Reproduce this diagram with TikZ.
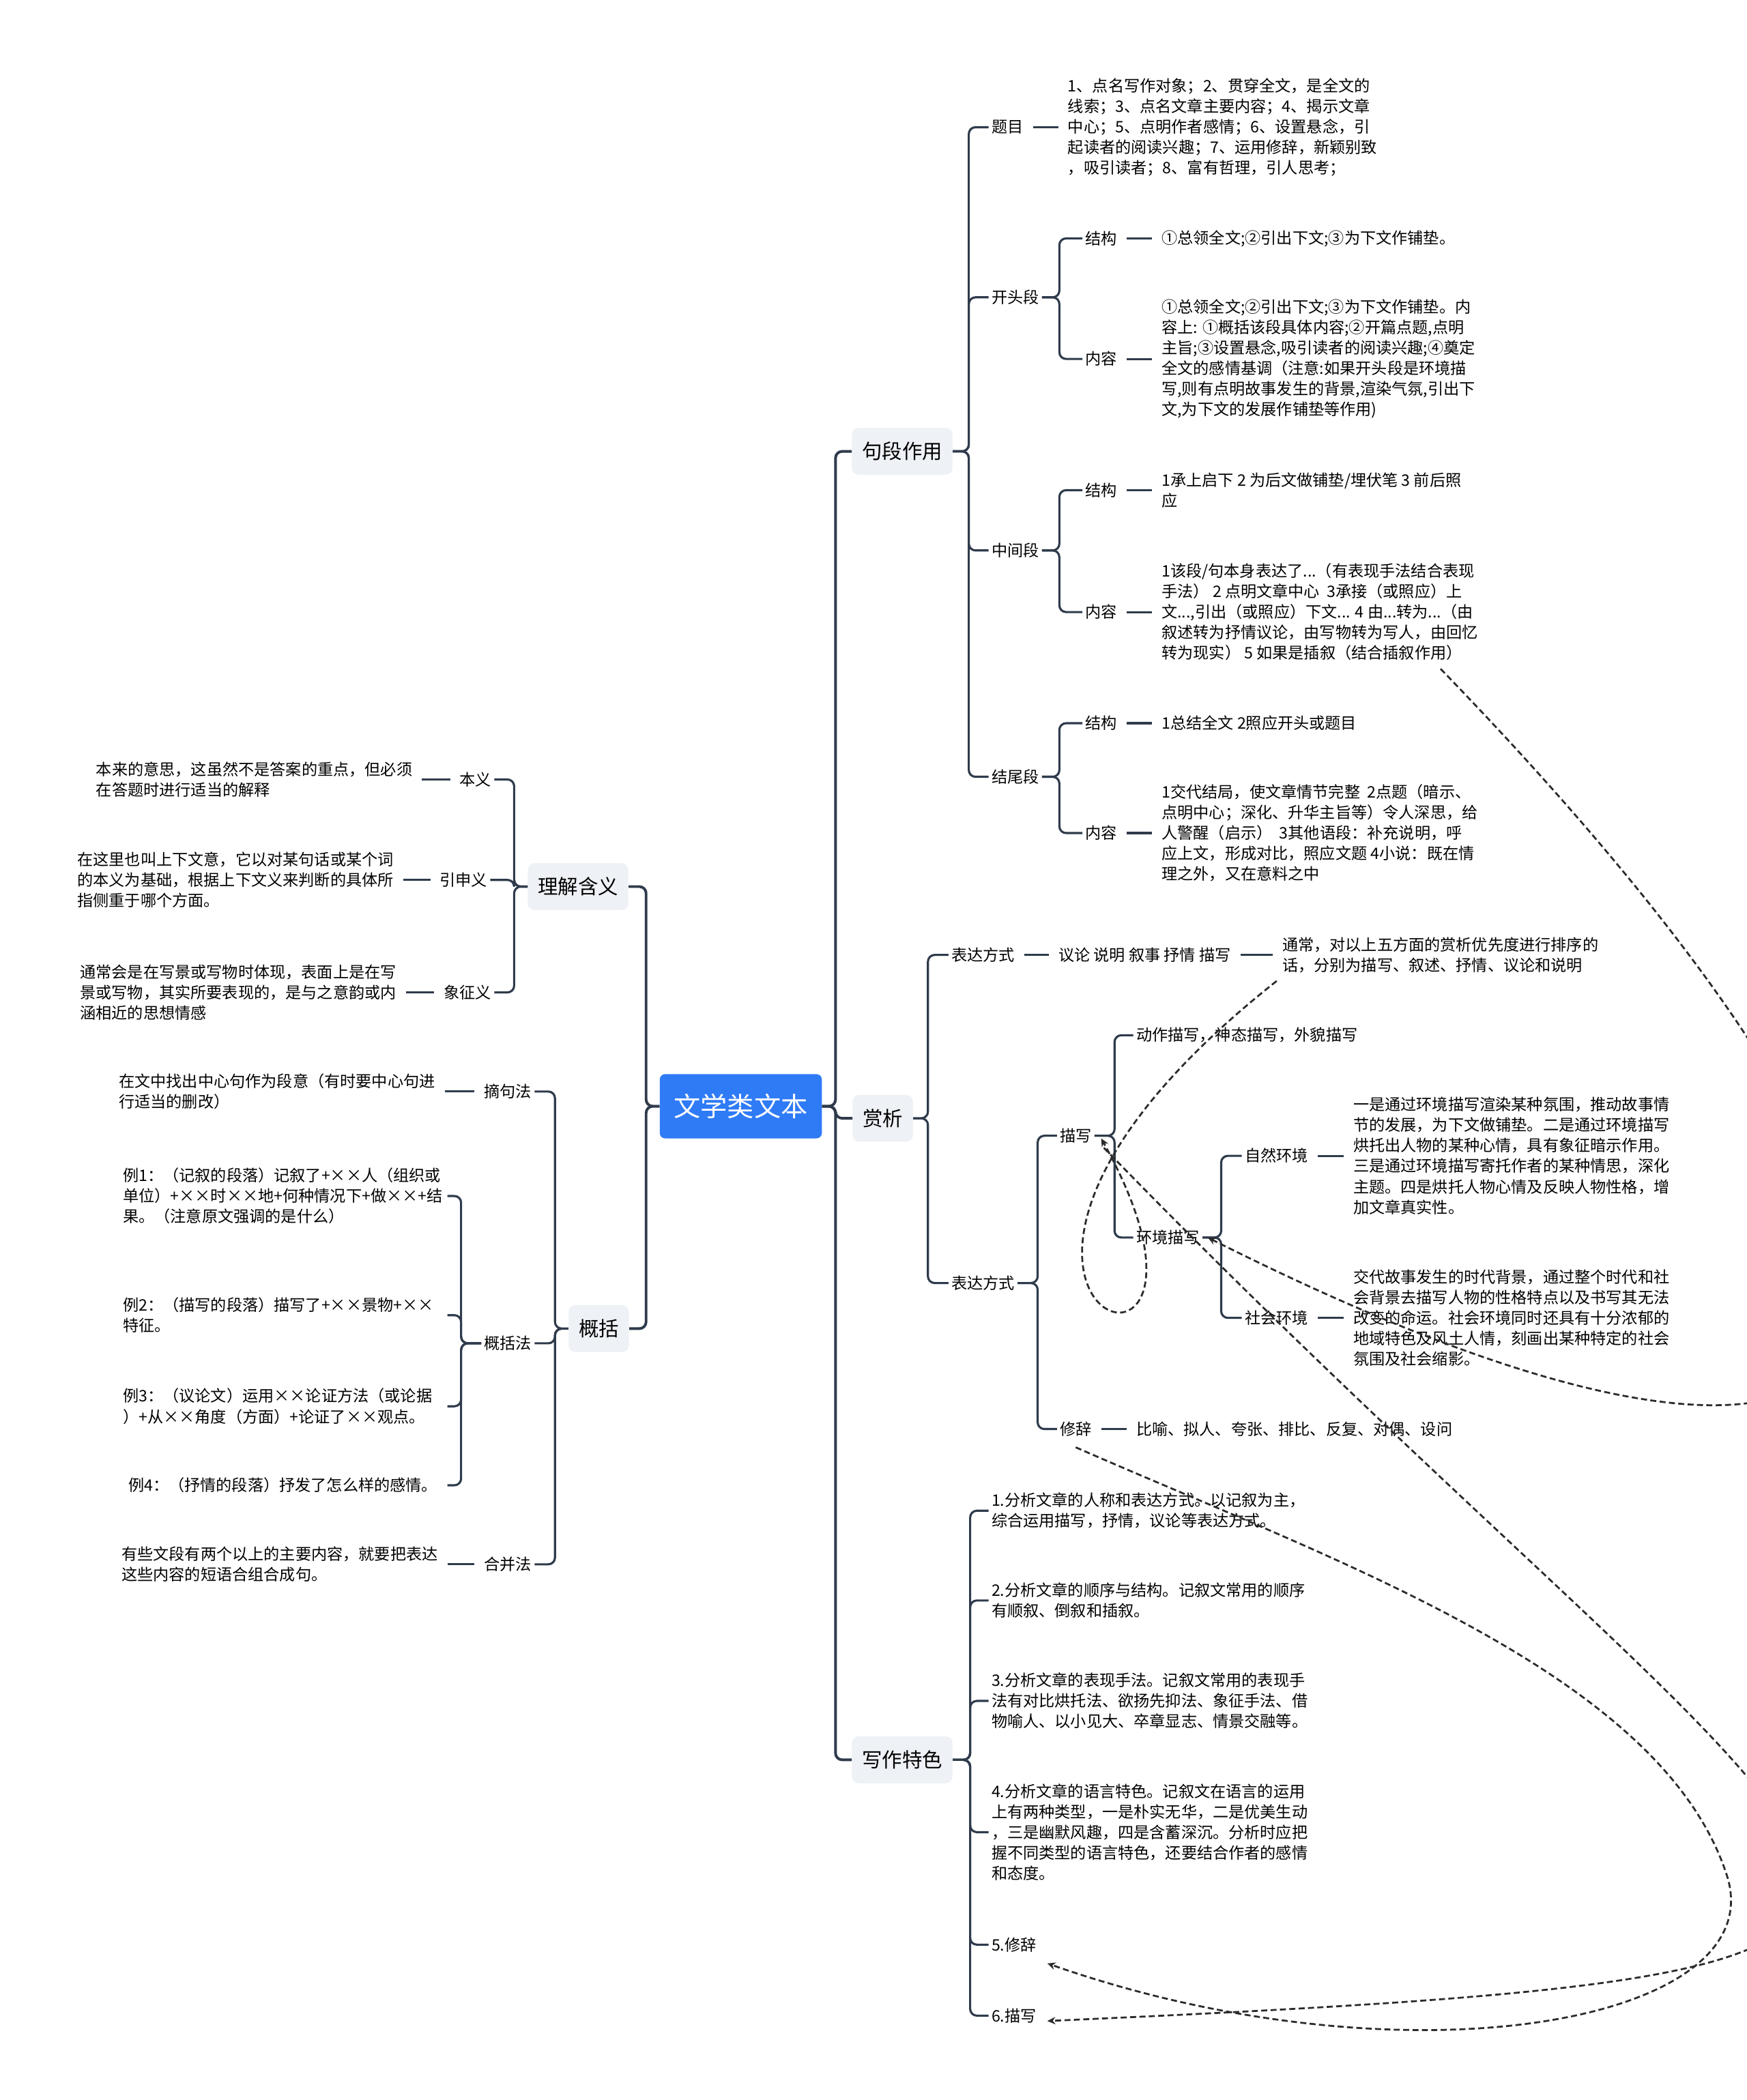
\documentclass[tikz,border=0pt]{standalone}
\usepackage{fontspec}
\setmainfont{Noto Sans CJK SC}
\usetikzlibrary{arrows.meta}
\definecolor{branchcol}{HTML}{2F3B4C}
\definecolor{topicbg}{HTML}{EEF1F5}
\definecolor{rootblue}{HTML}{2F7BF6}
\definecolor{relcol}{HTML}{2B2B2B}
\newcommand\smallfs{\fontsize{11.8pt}{15.3pt}\selectfont}
\tikzset{
  root/.style={fill=rootblue, text=white, rounded corners=4pt, font=\fontsize{20pt}{24pt}\selectfont, inner xsep=10.5pt, minimum height=48pt},
  topic/.style={fill=topicbg, rounded corners=5pt, font=\fontsize{15pt}{18pt}\selectfont, inner xsep=7.5pt, minimum height=35pt},
  lbl/.style={font=\smallfs, inner sep=2pt},
  txt/.style={font=\smallfs, inner sep=2pt, align=left},
  branch/.style={draw=branchcol, line width=1.6pt, rounded corners=5pt},
  tie/.style={draw=branchcol, line width=1.6pt, shorten <=5pt, shorten >=5pt},
  rel/.style={draw=relcol, line width=1.4pt, dash pattern=on 4.5pt off 2.5pt, -{Stealth[length=6pt,width=5.5pt]}}
}
\begin{document}
\begin{tikzpicture}[x=1pt,y=-1pt]
\useasboundingbox (0,0) rectangle (1304,1568);
\fill[white] (0,0) rectangle (1304,1568);
\clip (0,0) rectangle (1304,1568);

% root and main topics
\node[root] (wx) at (553,826) {文学类文本};
\node[topic] (jdzy) at (673.5,337) {句段作用};
\node[topic] (sx) at (659,835) {赏析};
\node[topic] (xztz) at (673.5,1314) {写作特色};
\node[topic] (ljhy) at (431.5,662) {理解含义};
\node[topic] (gk) at (447,992) {概括};
\foreach \t in {jdzy,sx,xztz}
  \draw[branch, line width=2pt] (wx.east) -- ++(10,0) |- (\t.west);
\foreach \t in {ljhy,gk}
  \draw[branch, line width=2pt] (wx.west) -- ++(-10,0) |- (\t.east);

% 句段作用
\node[lbl, anchor=west] (tm) at (738,95) {题目};
\node[lbl, anchor=west] (kt) at (738,222) {开头段};
\node[lbl, anchor=west] (zj) at (738,411) {中间段};
\node[lbl, anchor=west] (jw) at (738,580) {结尾段};
\foreach \t in {tm,kt,zj,jw}
  \draw[branch] (jdzy.east) -- ++(12,0) |- (\t.west);
\node[txt, anchor=west] (tmt) at (795,95) {1、点名写作对象；2、贯穿全文，是全文的\\
线索；3、点名文章主要内容；4、揭示文章\\
中心；5、点明作者感情；6、设置悬念，引\\
起读者的阅读兴趣；7、运用修辞，新颖别致\\
，吸引读者；8、富有哲理，引人思考；};
\draw[tie] (tm.east) -- (tmt.west);

\node[lbl, anchor=west] (ktjg) at (808,178) {结构};
\node[lbl, anchor=west] (ktnr) at (808,268) {内容};
\node[lbl, anchor=west] (zjjg) at (808,366) {结构};
\node[lbl, anchor=west] (zjnr) at (808,457) {内容};
\node[lbl, anchor=west] (jwjg) at (808,540) {结构};
\node[lbl, anchor=west] (jwnr) at (808,622) {内容};
\foreach \p/\a/\b in {kt/ktjg/ktnr,zj/zjjg/zjnr,jw/jwjg/jwnr}{
  \draw[branch] (\p.east) -- ++(13,0) |- (\a.west);
  \draw[branch] (\p.east) -- ++(13,0) |- (\b.west);
}
\node[txt, anchor=west] (ktjgt) at (865,178) {①总领全文;②引出下文;③为下文作铺垫。};
\node[txt, anchor=west] (ktnrt) at (865,268) {①总领全文;②引出下文;③为下文作铺垫。内\\
容上: ①概括该段具体内容;②开篇点题,点明\\
主旨;③设置悬念,吸引读者的阅读兴趣;④奠定\\
全文的感情基调（注意:如果开头段是环境描\\
写,则有点明故事发生的背景,渲染气氛,引出下\\
文,为下文的发展作铺垫等作用)};
\node[txt, anchor=west] (zjjgt) at (865,366) {1承上启下 2 为后文做铺垫/埋伏笔 3 前后照\\
应};
\node[txt, anchor=west] (zjnrt) at (865,457) {1该段/句本身表达了...（有表现手法结合表现\\
手法） 2 点明文章中心\ \ 3承接（或照应）上\\
文...,引出（或照应）下文... 4 由...转为...（由\\
叙述转为抒情议论，由写物转为写人，由回忆\\
转为现实） 5 如果是插叙（结合插叙作用）};
\node[txt, anchor=west] (jwjgt) at (865,540) {1总结全文 2照应开头或题目};
\node[txt, anchor=west] (jwnrt) at (865,622) {1交代结局，使文章情节完整\ \ 2点题（暗示、\\
点明中心；深化、升华主旨等）令人深思，给\\
人警醒（启示）\ \ 3其他语段：补充说明，呼\\
应上文，形成对比，照应文题 4小说：既在情\\
理之外，又在意料之中};
\foreach \a in {ktjg,ktnr,zjjg,zjnr,jwjg,jwnr}
  \draw[tie] (\a.east) -- (\a t.west);

% 赏析
\node[lbl, anchor=west] (bd1) at (708,713) {表达方式};
\node[lbl, anchor=west] (bd2) at (708,958) {表达方式};
\foreach \t in {bd1,bd2}
  \draw[branch] (sx.east) -- ++(11,0) |- (\t.west);
\node[lbl, anchor=west] (yl) at (788,713) {议论 说明 叙事 抒情 描写};
\node[txt, anchor=west] (tc) at (955,713) {通常，对以上五方面的赏析优先度进行排序的\\
话，分别为描写、叙述、抒情、议论和说明};
\draw[tie] (bd1.east) -- (yl.west);
\draw[tie] (yl.east) -- (tc.west);

\node[lbl, anchor=west] (ms) at (789,848) {描写};
\node[lbl, anchor=west] (xc) at (789,1067) {修辞};
\foreach \t in {ms,xc}
  \draw[branch] (bd2.east) -- ++(15,0) |- (\t.west);
\node[lbl, anchor=west] (dz) at (846,773) {动作描写，神态描写，外貌描写};
\node[lbl, anchor=west] (hj) at (846,924) {环境描写};
\foreach \t in {dz,hj}
  \draw[branch] (ms.east) -- ++(15,0) |- (\t.west);
\node[lbl, anchor=west] (zr) at (927,863) {自然环境};
\node[lbl, anchor=west] (sh) at (927,984) {社会环境};
\foreach \t in {zr,sh}
  \draw[branch] (hj.east) -- ++(14,0) |- (\t.west);
\node[txt, anchor=west] (zrt) at (1008,863) {一是通过环境描写渲染某种氛围，推动故事情\\
节的发展，为下文做铺垫。二是通过环境描写\\
烘托出人物的某种心情，具有象征暗示作用。\\
三是通过环境描写寄托作者的某种情思，深化\\
主题。四是烘托人物心情及反映人物性格，增\\
加文章真实性。};
\node[txt, anchor=west] (sht) at (1008,984) {交代故事发生的时代背景，通过整个时代和社\\
会背景去描写人物的性格特点以及书写其无法\\
改变的命运。社会环境同时还具有十分浓郁的\\
地域特色及风土人情，刻画出某种特定的社会\\
氛围及社会缩影。};
\node[lbl, anchor=west] (xct) at (846,1067) {比喻、拟人、夸张、排比、反复、对偶、设问};
\draw[tie] (zr.east) -- (zrt.west);
\draw[tie] (sh.east) -- (sht.west);
\draw[tie] (xc.east) -- (xct.west);

% 写作特色
\node[txt, anchor=west] (w1) at (738,1128) {1.分析文章的人称和表达方式。以记叙为主，\\
综合运用描写，抒情，议论等表达方式。};
\node[txt, anchor=west] (w2) at (738,1195) {2.分析文章的顺序与结构。记叙文常用的顺序\\
有顺叙、倒叙和插叙。};
\node[txt, anchor=west] (w3) at (738,1270) {3.分析文章的表现手法。记叙文常用的表现手\\
法有对比烘托法、欲扬先抑法、象征手法、借\\
物喻人、以小见大、卒章显志、情景交融等。};
\node[txt, anchor=west] (w4) at (738,1368) {4.分析文章的语言特色。记叙文在语言的运用\\
上有两种类型，一是朴实无华，二是优美生动\\
，三是幽默风趣，四是含蓄深沉。分析时应把\\
握不同类型的语言特色，还要结合作者的感情\\
和态度。};
\node[txt, anchor=west] (w5) at (738,1452) {5.修辞};
\node[txt, anchor=west] (w6) at (738,1505) {6.描写};
\foreach \t in {w1,w2,w3,w4,w5,w6}
  \draw[branch] (xztz.east) -- ++(13,0) |- (\t.west);

% 理解含义
\node[lbl, anchor=east] (by) at (369,582) {本义};
\node[lbl, anchor=east] (ysy) at (366,657) {引申义};
\node[lbl, anchor=east] (xzy) at (369,741) {象征义};
\foreach \t in {by,ysy,xzy}
  \draw[branch] (ljhy.west) -- ++(-10,0) |- (\t.east);
\node[txt, anchor=east] (byt) at (310,582) {本来的意思，这虽然不是答案的重点，但必须\\
在答题时进行适当的解释};
\node[txt, anchor=east] (ysyt) at (296,657) {在这里也叫上下文意，它以对某句话或某个词\\
的本义为基础，根据上下文义来判断的具体所\\
指侧重于哪个方面。};
\node[txt, anchor=east] (xzyt) at (298,741) {通常会是在写景或写物时体现，表面上是在写\\
景或写物，其实所要表现的，是与之意韵或内\\
涵相近的思想情感};
\foreach \t in {by,ysy,xzy}
  \draw[tie] (\t.west) -- (\t t.east);

% 概括
\node[lbl, anchor=east] (zjf) at (399,815) {摘句法};
\node[lbl, anchor=east] (gkf) at (399,1003) {概括法};
\node[lbl, anchor=east] (hbf) at (399,1168) {合并法};
\foreach \t in {zjf,gkf,hbf}
  \draw[branch] (gk.west) -- ++(-10,0) |- (\t.east);
\node[txt, anchor=east] (zjft) at (327,815) {在文中找出中心句作为段意（有时要中心句进\\
行适当的删改）};
\node[txt, anchor=east] (hbft) at (329,1168) {有些文段有两个以上的主要内容，就要把表达\\
这些内容的短语合组合成句。};
\draw[tie] (zjf.west) -- (zjft.east);
\draw[tie] (hbf.west) -- (hbft.east);
\node[txt, anchor=east, text width=240pt] (e1) at (334,893) {例1：（记叙的段落）记叙了+××人（组织或\\
单位）+××时××地+何种情况下+做××+结\\
果。（注意原文强调的是什么）};
\node[txt, anchor=east, text width=240pt] (e2) at (334,982) {例2：（描写的段落）描写了+××景物+××\\
特征。};
\node[txt, anchor=east, text width=240pt] (e3) at (334,1050) {例3：（议论文）运用××论证方法（或论据\\
）+从××角度（方面）+论证了××观点。};
\node[txt, anchor=east, text width=240pt] (e4) at (334,1109) {\hspace*{4pt}例4：（抒情的段落）抒发了怎么样的感情。};
\foreach \t in {e1,e2,e3,e4}
  \draw[branch] (gkf.west) -- ++(-15,0) |- (\t.east);

% relation curves
\draw[rel] ([xshift=-30pt,yshift=-4pt]zjnrt.south east) .. controls (1560,1000) and (1450,1200) .. ([xshift=4pt]hj.east);
\draw[rel] ([xshift=-2pt,yshift=-4pt]tc.south west) .. controls (640,980) and (950,1080) .. ([xshift=5pt,yshift=-2pt]ms.east);
\draw[rel] ([xshift=7pt,yshift=-9pt]ms.east) .. controls (1400,1450) and (1650,1470) .. ([xshift=6pt,yshift=-4pt]w6.east);
\draw[rel] ([yshift=-6pt]xc.south) .. controls (1000,1167) and (1240,1250) .. (1289,1400) .. controls (1325,1510) and (1050,1560) .. ([xshift=6pt,yshift=-14pt]w5.east);
\end{tikzpicture}
\end{document}
